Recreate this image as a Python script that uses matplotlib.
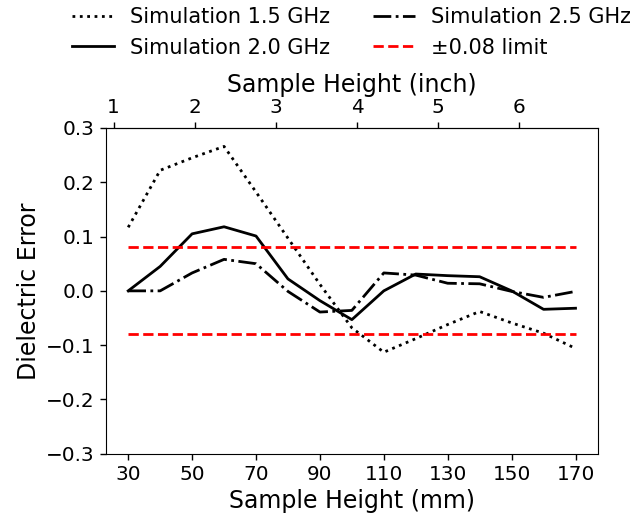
import matplotlib
matplotlib.use("Agg")
import matplotlib.pyplot as plt
import numpy as np

# Sample heights (mm) and dielectric error for each simulated frequency
heights_mm = [30, 40, 50, 60, 70, 80, 90, 100, 110, 120, 130, 140, 150, 160, 170]
err_15ghz = [0.117, 0.222, 0.245, 0.266, 0.182, 0.097, 0.012, -0.068, -0.113,
             -0.088, -0.062, -0.038, -0.059, -0.078, -0.106]
err_20ghz = [0.0, 0.045, 0.105, 0.118, 0.101, 0.022, -0.018, -0.053, 0.0,
             0.031, 0.028, 0.026, 0.0, -0.034, -0.032]
err_25ghz = [0.0, 0.0, 0.033, 0.058, 0.050, -0.001, -0.039, -0.036, 0.033,
             0.029, 0.014, 0.013, -0.001, -0.012, -0.001]
limit = 0.08
inch_ticks = [1, 2, 3, 4, 5, 6]
mm_ticks = [30, 50, 70, 90, 110, 130, 150, 170]
y_ticks = [-0.3, -0.2, -0.1, 0.0, 0.1, 0.2, 0.3]

fig = plt.figure(figsize=(6.3, 5.18), dpi=100)
ax = fig.add_axes([0.168, 0.124, 0.781, 0.629])

lw = 2.0
ax.plot(heights_mm, err_15ghz, color="black", linestyle=":", linewidth=lw,
        label="Simulation 1.5 GHz")
ax.plot(heights_mm, err_20ghz, color="black", linestyle="-", linewidth=lw,
        label="Simulation 2.0 GHz")
ax.plot(heights_mm, err_25ghz, color="black", linestyle="-.", linewidth=lw,
        label="Simulation 2.5 GHz")
ax.plot([heights_mm[0], heights_mm[-1]], [limit, limit], color="red",
        linestyle="--", linewidth=lw, label="±0.08 limit")
ax.plot([heights_mm[0], heights_mm[-1]], [-limit, -limit], color="red",
        linestyle="--", linewidth=lw)

ax.set_ylim(-0.3, 0.3)
ax.set_yticks(y_ticks)
ax.set_xticks(mm_ticks)
ax.tick_params(labelsize=14.4, width=1.0, length=4.5)
ax.set_xlabel("Sample Height (mm)", fontsize=17)
ax.set_ylabel("Dielectric Error", fontsize=17)

top = ax.secondary_xaxis("top", functions=(lambda x: x / 25.4, lambda x: x * 25.4))
top.set_xticks(inch_ticks)
top.tick_params(labelsize=14.4, width=1.0, length=4.5)
top.set_xlabel("Sample Height (inch)", fontsize=17)

handles, labels = ax.get_legend_handles_labels()
fig.legend(handles, labels, ncol=2, frameon=False, fontsize=15,
           loc="upper center", bbox_to_anchor=(0.558, 1.022),
           columnspacing=2.05)

fig.savefig("out.png", dpi=100)
